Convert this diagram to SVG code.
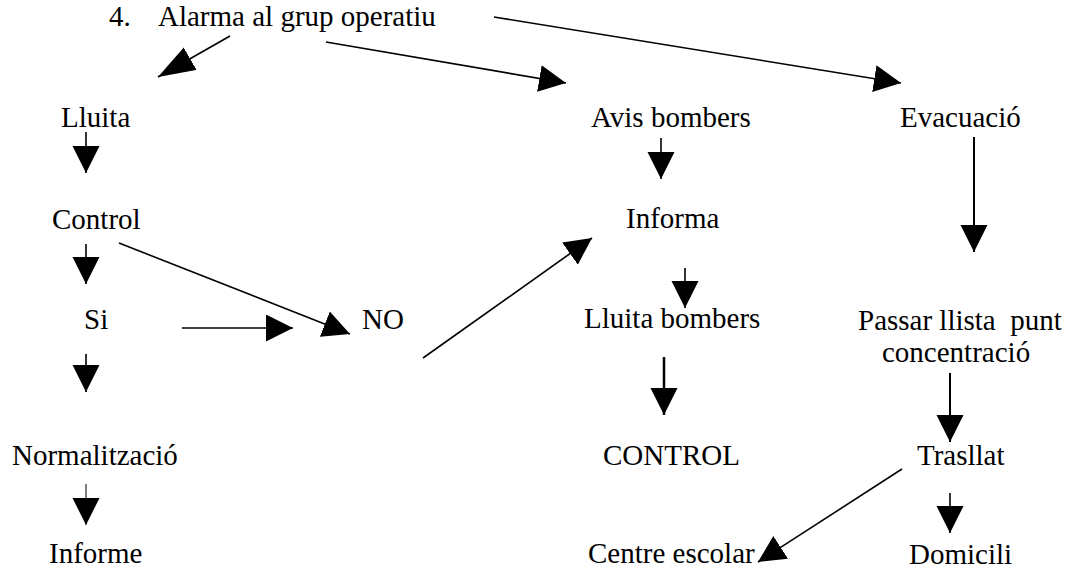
<svg xmlns="http://www.w3.org/2000/svg" width="1067" height="568" viewBox="0 0 1067 568">
<style>
text{font-family:"Liberation Serif","Times New Roman",serif;font-size:29px;fill:#000}
.c line{stroke:#000;stroke-width:1.6;fill:none;marker-end:url(#ah)}
</style>
<defs>
<marker id="ah" markerUnits="userSpaceOnUse" markerWidth="28" markerHeight="28" viewBox="0 0 28 28" refX="27" refY="13.5" orient="auto">
<path d="M0,0 L27,13.5 L0,27 Z" fill="#000"/>
</marker>
<marker id="ahl" markerUnits="userSpaceOnUse" markerWidth="38" markerHeight="28" viewBox="0 0 38 28" refX="37" refY="13" orient="auto">
<path d="M0,0 L37,13 L0,26 Z" fill="#000"/>
</marker>
</defs>
<rect width="1067" height="568" fill="#fff"/>
<g class="c" id="connectors">
<line x1="230" y1="36" x2="158" y2="77" style="marker-end:url(#ahl)"/>
<line x1="326" y1="42" x2="566" y2="83"/>
<line x1="494" y1="17" x2="901" y2="83"/>
<line x1="86" y1="132" x2="86" y2="173"/>
<line x1="661" y1="138" x2="661" y2="179"/>
<line x1="974" y1="137" x2="974" y2="252" style="stroke-width:2"/>
<line x1="86" y1="244" x2="86" y2="284"/>
<line x1="119" y1="243" x2="350" y2="334"/>
<line x1="182" y1="328" x2="293" y2="328"/>
<line x1="423" y1="358" x2="592" y2="238"/>
<line x1="685" y1="268" x2="685" y2="308"/>
<line x1="86" y1="354" x2="86" y2="392"/>
<line x1="664" y1="357" x2="664" y2="415" style="stroke-width:2.5"/>
<line x1="950" y1="373" x2="950" y2="442" style="stroke-width:2"/>
<line x1="86" y1="484" x2="86" y2="525" style="stroke-width:1"/>
<line x1="902" y1="469" x2="758" y2="562"/>
<line x1="950" y1="493" x2="950" y2="533"/>
</g>
<g id="n-alarma"><text x="109" y="26">4.</text><text x="158" y="26">Alarma al grup operatiu</text></g>
<g id="n-lluita"><text x="61" y="127">Lluita</text></g>
<g id="n-avis"><text x="591" y="127">Avis bombers</text></g>
<g id="n-evacuacio"><text x="900" y="127">Evacuació</text></g>
<g id="n-control"><text x="52" y="229">Control</text></g>
<g id="n-informa"><text x="626" y="228">Informa</text></g>
<g id="n-si"><text x="84" y="329">Si</text></g>
<g id="n-no"><text x="362" y="329">NO</text></g>
<g id="n-lluitabombers"><text x="584" y="328">Lluita bombers</text></g>
<g id="n-passar"><text x="858" y="330" xml:space="preserve">Passar llista  punt</text><text x="882" y="362">concentració</text></g>
<g id="n-normalitzacio"><text x="12" y="465">Normalització</text></g>
<g id="n-CONTROL"><text x="603" y="465">CONTROL</text></g>
<g id="n-trasllat"><text x="917" y="465">Trasllat</text></g>
<g id="n-informe"><text x="49" y="563">Informe</text></g>
<g id="n-centre"><text x="588" y="563">Centre escolar</text></g>
<g id="n-domicili"><text x="909" y="564">Domicili</text></g>
</svg>
